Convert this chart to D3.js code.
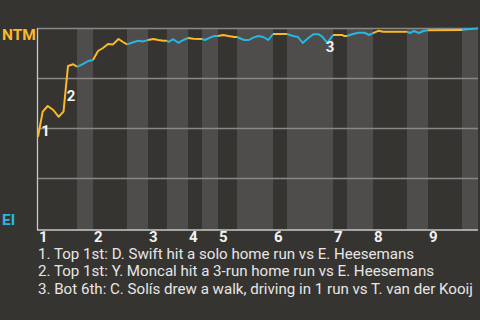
<!DOCTYPE html>
<html>
<head>
<meta charset="utf-8">
<script src="https://cdn.jsdelivr.net/npm/d3@7"></script>
<style>
html,body{margin:0;padding:0;background:#363431;}
svg{display:block;}
text{font-family:Roboto,"Noto Sans",sans-serif;}
</style>
</head>
<body>
<svg id="chart" width="480" height="320"></svg>
<script>
// ---- data ----
const awayTeam = "NTM";
const homeTeam = "EI";
// play index of each half-inning start (last value = end of game)
const halfInningStarts = [0, 7.8, 11, 17.8, 22, 25.8, 30, 32.8, 36, 39.8, 47, 49.8, 59, 61.8, 67, 73.8, 78, 84.8, 88];
const inningLabels = ["1","2","3","4","5","6","7","8","9"];
// play index and NTM win probability (%)
const playIndex = [
  0, 0.94, 1.94, 3.06, 4.14, 5.1, 6, 7.06, 7.8,
  8.94, 10.06, 11,
  12, 13, 14, 15, 16.1, 17, 17.8,
  19.06, 20.06, 21.06, 22,
  23.06, 24.06, 25.06, 25.8,
  26.1, 27.06, 28.06, 29.06, 30,
  31.06, 32.8,
  33.4, 34.4, 35.26, 36,
  37.06, 38.06, 39.26, 39.8,
  40.74, 41.26, 42.2, 43.06, 44.06, 45.06, 46.06, 47,
  49.8,
  51, 52, 52.94, 54.06, 55.1, 56.06, 56.8, 57.86, 59,
  60.9, 61.2, 61.8,
  63, 64.06, 65.4, 66.2, 67,
  68.06, 69.06, 73.8,
  74.4, 75.2, 76.2, 77.06, 78,
  84.8,
  85.8, 87.8, 88
];
const ntmWinPct = [
  45.6, 58.2, 61, 59, 55.6, 58.2, 81, 81.9, 80.6,
  81.9, 83.5, 84,
  88.5, 90, 92, 91.8, 94.5, 93, 91.8,
  92.9, 93.6, 93.3, 94,
  94.5, 94, 93.6, 93.6,
  93, 94.4, 92.6, 94, 95,
  94.6, 94.5,
  94, 95.2, 96, 96,
  96.5, 96, 95.5, 95.5,
  94.5, 94, 94, 95.2, 96, 95.5, 94, 97,
  97,
  96, 95.5, 92.5, 95, 96.9, 96.9, 95.8, 92.6, 96.5,
  96.5, 96, 96,
  97, 97.6, 97.6, 96.5, 97.4,
  98.6, 98.1, 98.1,
  97.5, 98.5, 97.5, 98.5, 98.9,
  99,
  99.4, 99.8, 100
];
const eventLabels = ["1","2","3"];
const eventEndPlay = [0.94, 6, 57.86];
const footnotes = [
  "1. Top 1st: D. Swift hit a solo home run vs E. Heesemans",
  "2. Top 1st: Y. Moncal hit a 3-run home run vs E. Heesemans",
  "3. Bot 6th: C. Solís drew a walk, driving in 1 run vs T. van der Kooij"
];
const gridValues = [25, 50, 75, 100];

// ---- style ----
const C_AWAY = "#fdb827";
const C_HOME = "#27b7e3";
const C_BAND = "#4e4d4b";
const C_GRID = "#8a8886";
const C_AXIS = "#c9c9c9";

const svg = d3.select("#chart");
const x = d3.scaleLinear().domain([0, 88]).range([38, 478]);
const y = d3.scaleLinear().domain([0, 100]).range([228, 28]);
const plotBottom = y(0) + 2;

// bands for bottom halves
const halves = d3.range(halfInningStarts.length - 1).map(i => ({
  i, start: halfInningStarts[i], end: halfInningStarts[i + 1]
}));
svg.append("g").selectAll("rect").data(halves.filter(h => h.i % 2 === 1)).join("rect")
  .attr("x", d => x(d.start)).attr("width", d => x(d.end) - x(d.start))
  .attr("y", y(100)).attr("height", plotBottom - y(100))
  .attr("fill", C_BAND);

// gridlines
const grid = svg.append("g").attr("transform", `translate(${x(0)},0)`)
  .call(d3.axisLeft(y).tickValues(gridValues).tickSize(-(x(88) - x(0))).tickFormat(""));
grid.select(".domain").remove();
grid.selectAll(".tick line").attr("stroke", C_GRID).attr("stroke-width", 1.3);

// axes lines
svg.append("line").attr("x1", x(0) - 0.5).attr("x2", x(0) - 0.5).attr("y1", y(100)).attr("y2", plotBottom)
  .attr("stroke", C_AXIS).attr("stroke-width", 1.3);
svg.append("line").attr("x1", x(0) - 1).attr("x2", x(88)).attr("y1", plotBottom).attr("y2", plotBottom)
  .attr("stroke", C_AXIS).attr("stroke-width", 1.3);

// line segments by half-inning
const pts = playIndex.map((p, k) => ({ p, v: ntmWinPct[k] }));
const line = d3.line().x(d => x(d.p)).y(d => y(d.v));
svg.append("g").selectAll("path").data(halves).join("path")
  .attr("d", h => line(pts.filter(d => d.p >= h.start - 1e-9 && d.p <= h.end + 1e-9)))
  .attr("fill", "none")
  .attr("stroke", h => h.i % 2 === 0 ? C_AWAY : C_HOME)
  .attr("stroke-width", 2)
  .attr("stroke-linejoin", "round");

// event labels
eventEndPlay.forEach((ep, k) => {
  const idx = playIndex.indexOf(ep);
  const mx = (x(playIndex[idx]) + x(playIndex[idx - 1])) / 2;
  const my = (y(ntmWinPct[idx]) + y(ntmWinPct[idx - 1])) / 2;
  svg.append("text").attr("x", mx + 1).attr("y", my + 12)
    .attr("fill", "#f2f2f2").attr("font-size", 15).attr("font-weight", "bold")
    .text(eventLabels[k]);
});

// team labels
svg.append("text").attr("x", 2).attr("y", 40).attr("fill", C_AWAY)
  .attr("font-size", 15.5).attr("font-weight", "bold").text(awayTeam);
svg.append("text").attr("x", 2).attr("y", 225).attr("fill", C_HOME)
  .attr("font-size", 15.5).attr("font-weight", "bold").text(homeTeam);

// inning labels
svg.append("g").selectAll("text").data(inningLabels).join("text")
  .attr("x", (d, i) => x(halfInningStarts[i * 2]) + 1)
  .attr("y", 242)
  .attr("fill", "#f2f2f2").attr("font-size", 15).attr("font-weight", "bold")
  .text(d => d);

// footnotes
svg.append("g").selectAll("text").data(footnotes).join("text")
  .attr("x", 38).attr("y", (d, i) => 258.5 + i * 17.8)
  .attr("fill", "#e6e6e6").attr("font-size", 15.1)
  .text(d => d);
</script>
</body>
</html>
